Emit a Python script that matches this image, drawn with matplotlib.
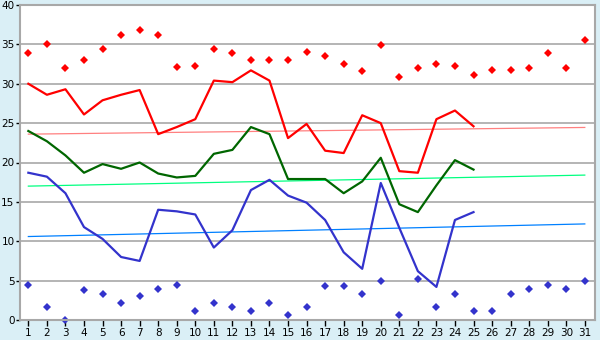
import matplotlib
matplotlib.use("Agg")
import matplotlib.pyplot as plt
import numpy as np

days = list(range(1, 32))
day_labels = [str(d) for d in days]

max_points = [33.9, 35.0, 32.0, 33.0, 34.4, 36.2, 36.8, 36.2, 32.1, 32.3,
              34.4, 33.9, 33.0, 33.0, 33.0, 34.0, 33.5, 32.5, 31.6, 34.9,
              30.9, 32.0, 32.5, 32.2, 31.1, 31.7, 31.8, 32.0, 33.9, 32.0, 35.6]
min_points = [4.4, 1.7, 0.0, 3.8, 3.3, 2.2, 3.1, 3.9, 4.4, 1.1,
              2.2, 1.7, 1.1, 2.2, 0.6, 1.7, 4.3, 4.3, 3.3, 5.0,
              0.6, 5.2, 1.7, 3.3, 1.1, 1.1, 3.3, 3.9, 4.4, 3.9, 5.0]

max_line = [30.0, 28.6, 29.3, 26.1, 27.9, 28.6, 29.2, 23.6, 24.5, 25.5,
            30.4, 30.2, 31.7, 30.4, 23.1, 24.9, 21.5, 21.2, 26.0, 25.0,
            18.9, 18.7, 25.5, 26.6, 24.6]
mean_line = [24.0, 22.7, 20.9, 18.7, 19.8, 19.2, 20.0, 18.6, 18.1, 18.3,
             21.1, 21.6, 24.5, 23.6, 17.9, 17.9, 17.9, 16.1, 17.6, 20.6,
             14.7, 13.7, 17.1, 20.3, 19.1]
min_line = [18.7, 18.2, 16.1, 11.8, 10.3, 8.0, 7.5, 14.0, 13.8, 13.4,
            9.2, 11.4, 16.5, 17.8, 15.8, 14.9, 12.7, 8.6, 6.5, 17.4,
            11.7, 6.2, 4.2, 12.7, 13.7]

# normal (trend) values at first and last day
normal_max = [23.6, 24.45]
normal_mean = [17.0, 18.4]
normal_min = [10.6, 12.2]

fig = plt.figure(figsize=(6.0, 3.4), dpi=100)
fig.patch.set_facecolor("#DAEFF6")
ax = fig.add_axes([20/600, 20/340, 575/600, 315/340])
ax.set_facecolor("white")

ax.set_xlim(0.55, 31.55)
ax.set_ylim(0, 40)
ax.set_yticks(np.arange(0, 41, 5))
ax.set_xticks(days)
ax.set_xticklabels(day_labels)
ax.grid(axis="y", color="#A8A8A8", linewidth=1.2)
ax.set_axisbelow(True)

for s in ax.spines.values():
    s.set_color("#A8A8A8")
    s.set_linewidth(1.5)

ax.tick_params(axis="both", colors="black", labelsize=7.5, width=1)
ax.tick_params(axis="y", length=3, pad=1)
ax.tick_params(axis="x", length=4, pad=2)

trend_x = [days[0], days[-1]]
ax.plot(trend_x, normal_max, color="#FF8080", linewidth=0.9)
ax.plot(trend_x, normal_mean, color="#00FF80", linewidth=0.9)
ax.plot(trend_x, normal_min, color="#0080FF", linewidth=0.9)

n = len(max_line)
ax.plot(days[:n], max_line, color="#FF0000", linewidth=1.6)
ax.plot(days[:n], mean_line, color="#006600", linewidth=1.6)
ax.plot(days[:n], min_line, color="#3333CC", linewidth=1.6)

ax.plot(days, max_points, linestyle="none", marker="D", markersize=4,
        color="#FF0000", markeredgewidth=0)
ax.plot(days, min_points, linestyle="none", marker="D", markersize=4,
        color="#3333CC", markeredgewidth=0, clip_on=False)

fig.savefig("out.png", dpi=100, facecolor=fig.get_facecolor())
